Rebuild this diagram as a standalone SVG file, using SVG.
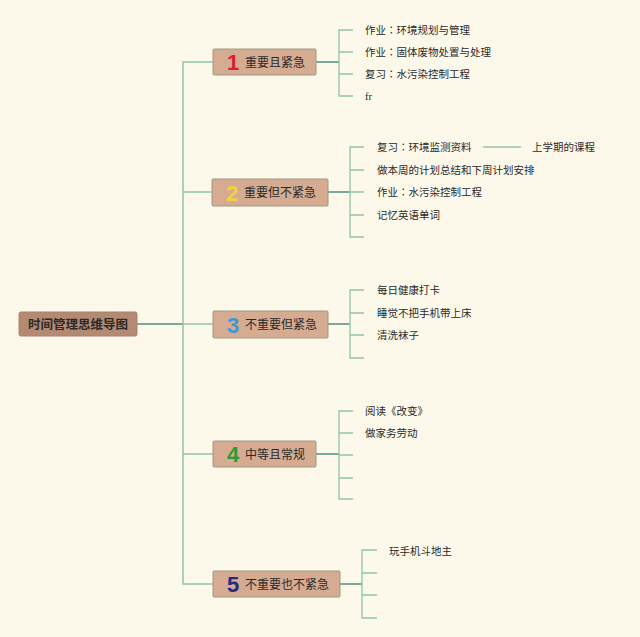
<svg xmlns="http://www.w3.org/2000/svg" width="640" height="637" viewBox="0 0 640 637">
<style>
text{font-family:"Noto Sans CJK SC","Noto Sans",sans-serif;fill:#2a2a2a}
.node{fill:#d5ab92;stroke:#9c9a84;stroke-width:1}
.root{fill:#b58a72;stroke:#a88270;stroke-width:1}
.lbl{font-size:12px}
.num{font-family:"Liberation Sans",sans-serif;font-weight:bold;font-size:22px}
.leaf{font-size:10.5px}
.tc{font-family:"Noto Sans CJK TC","Noto Sans CJK SC",sans-serif}
.trunk{fill:none;stroke:#93c2ad;stroke-width:1.5}
.main{fill:none;stroke:#4f8d80;stroke-width:1.5}
.tick{fill:none;stroke:#93c2ad;stroke-width:1.3}
</style>
<rect width="640" height="637" fill="#fdf9ea"/>
<g id="connectors">
<path class="main" d="M137 324H183"/>
<path class="trunk" d="M213 62H183V584H213M183 192H213M183 324H213M183 454H213"/>
<path class="main" d="M316 62H339M328 192H350M328 324H350M316 454H339M340 584H362"/>
<path class="tick" d="M353 30H339V96H353M339 52H353M339 74H353"/>
<path class="tick" d="M364 147H350V237H364M350 170H364M350 192H364M350 215H364"/>
<path class="tick" d="M483 147H521"/>
<path class="tick" d="M364 290H350V358H364M350 313H364M350 335H364"/>
<path class="tick" d="M353 411H339V499H353M339 433H353M339 455H353M339 478H353"/>
<path class="tick" d="M377 550H362V618H377M362 573H377M362 595H377"/>
</g>
<g id="root">
<rect class="root" x="19" y="312" width="118" height="24" rx="2"/>
<text x="78" y="328.5" text-anchor="middle" font-size="12.5" font-weight="bold">时间管理思维导图</text>
</g>
<g id="n1">
<rect class="node" x="213" y="49" width="103" height="26" rx="1"/>
<text class="num" x="227" y="70" style="fill:#d6202e">1</text>
<text class="lbl" x="245" y="66.5">重要且紧急</text>
</g>
<g id="n2">
<rect class="node" x="212" y="179" width="116" height="27" rx="1"/>
<text class="num" x="226" y="200.5" style="fill:#f2d23e">2</text>
<text class="lbl" x="244" y="196.5">重要但不紧急</text>
</g>
<g id="n3">
<rect class="node" x="213" y="311" width="115" height="27" rx="1"/>
<text class="num" x="227" y="332.5" style="fill:#3a9ad8">3</text>
<text class="lbl" x="245" y="328.5">不重要但紧急</text>
</g>
<g id="n4">
<rect class="node" x="213" y="441" width="103" height="26" rx="1"/>
<text class="num" x="227" y="462" style="fill:#2a9a32">4</text>
<text class="lbl" x="245" y="458.5">中等且常规</text>
</g>
<g id="n5">
<rect class="node" x="213" y="571" width="127" height="26" rx="1"/>
<text class="num" x="227" y="592" style="fill:#262a80">5</text>
<text class="lbl" x="245" y="588.5">不重要也不紧急</text>
</g>
<g id="leaves1">
<text class="leaf tc" x="365" y="34">作业：环境规划与管理</text>
<text class="leaf tc" x="365" y="56">作业：固体废物处置与处理</text>
<text class="leaf tc" x="365" y="78">复习：水污染控制工程</text>
<text class="leaf" x="365" y="100" style="font-family:'Liberation Serif',serif">fr</text>
</g>
<g id="leaves2">
<text class="leaf tc" x="377" y="151">复习：环境监测资料</text>
<text class="leaf" x="532" y="151">上学期的课程</text>
<text class="leaf" x="377" y="174">做本周的计划总结和下周计划安排</text>
<text class="leaf tc" x="377" y="196">作业：水污染控制工程</text>
<text class="leaf" x="377" y="219">记忆英语单词</text>
</g>
<g id="leaves3">
<text class="leaf" x="377" y="294">每日健康打卡</text>
<text class="leaf" x="377" y="317">睡觉不把手机带上床</text>
<text class="leaf" x="377" y="339">清洗袜子</text>
</g>
<g id="leaves4">
<text class="leaf" x="365" y="415">阅读《改变》</text>
<text class="leaf" x="365" y="437">做家务劳动</text>
</g>
<g id="leaves5">
<text class="leaf" x="389" y="555">玩手机斗地主</text>
</g>
</svg>
